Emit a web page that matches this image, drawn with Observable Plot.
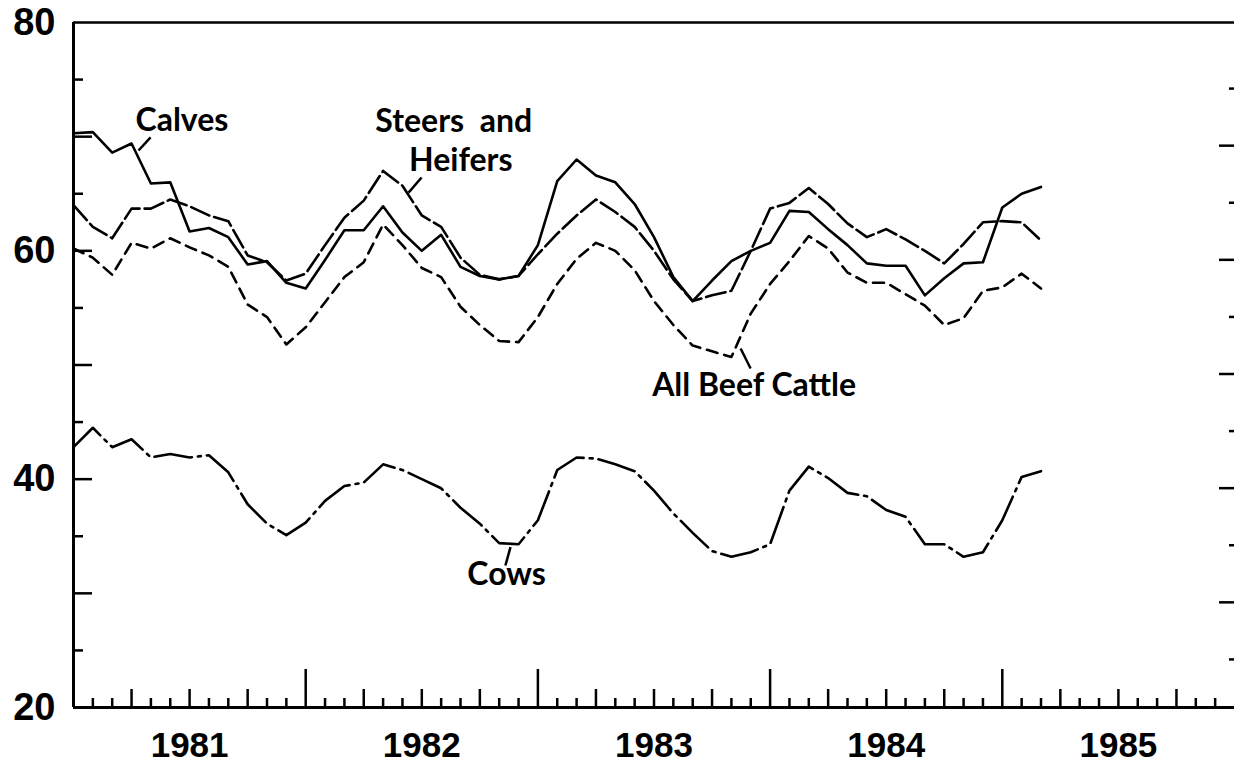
<!DOCTYPE html>
<html><head><meta charset="utf-8">
<script src="https://cdn.jsdelivr.net/npm/d3@7"></script>
<script src="https://cdn.jsdelivr.net/npm/@observablehq/plot@0.6"></script>
<style>html,body{margin:0;padding:0;background:#fff;} #chart svg{display:block;}</style>
</head><body><div id="chart"></div>
<script>
// Monthly values, January 1981 through March 1985
const startYear = 1981;
const calves = [70.3,70.4,68.6,69.4,65.9,66.0,61.7,62.0,61.2,58.8,59.1,57.2,56.7,59.2,61.8,61.8,63.9,61.6,60.0,61.4,58.6,57.8,57.5,57.8,60.5,66.1,68.0,66.6,66.0,64.1,61.2,57.7,55.6,57.4,59.1,60.0,60.7,63.5,63.4,61.9,60.5,58.9,58.7,58.7,56.1,57.6,58.9,59.0,63.8,65.0,65.6];
const steersHeifers = [64.0,62.1,61.1,63.7,63.7,64.5,63.9,63.1,62.6,59.6,59.0,57.4,58.0,60.5,62.9,64.4,67.0,65.7,63.1,62.1,59.4,57.9,57.5,57.8,59.7,61.5,63.1,64.5,63.4,62.1,60.0,57.5,55.6,56.1,56.5,60.0,63.7,64.2,65.5,64.1,62.4,61.2,61.9,61.0,60.0,58.9,60.6,62.5,62.6,62.5,60.9];
const allBeefCattle = [60.2,59.4,57.9,60.7,60.2,61.1,60.3,59.6,58.6,55.3,54.2,51.8,53.3,55.5,57.7,59.0,62.3,60.5,58.5,57.7,55.1,53.5,52.1,52.0,54.2,57.1,59.3,60.7,60.0,58.3,55.6,53.5,51.7,51.2,50.7,54.5,57.1,59.1,61.3,60.2,58.1,57.2,57.2,56.2,55.2,53.5,54.1,56.5,56.8,58.0,56.7];
const cows = [42.8,44.5,42.8,43.5,41.9,42.2,41.9,42.1,40.6,37.8,36.1,35.1,36.2,38.1,39.4,39.7,41.3,40.8,40.0,39.2,37.5,36.1,34.4,34.3,36.4,40.8,41.9,41.8,41.3,40.7,39.0,37.0,35.3,33.7,33.2,33.6,34.3,39.0,41.1,40.1,38.8,38.5,37.3,36.7,34.3,34.3,33.2,33.6,36.4,40.2,40.7];

const yearLabels = ["1981","1982","1983","1984","1985"];
const yLabels = [20, 40, 60, 80];

const annotations = [
  {text: "Calves", x: 1981.267, y: 71.4},
  {text: "Steers  and", x: 1982.300, y: 71.3},
  {text: "Heifers", x: 1982.445, y: 67.9},
  {text: "All Beef Cattle", x: 1983.492, y: 48.2},
  {text: "Cows", x: 1982.696, y: 31.6}
];
const leaders = [
  {x1: 1981.332, y1: 69.93, x2: 1981.280, y2: 68.79},
  {x1: 1982.499, y1: 66.42, x2: 1982.443, y2: 65.10},
  {x1: 1983.873, y1: 51.44, x2: 1983.916, y2: 49.69},
  {x1: 1982.882, y1: 34.04, x2: 1982.860, y2: 32.44}
];

const series = [
  {name: "Calves", values: calves, dash: null},
  {name: "Steers and Heifers", values: steersHeifers, dash: "20,5"},
  {name: "All Beef Cattle", values: allBeefCattle, dash: "11,7"},
  {name: "Cows", values: cows, dash: "38,6,3,6"}
];
const toRows = s => s.values.map((v, i) => ({t: startYear + i / 12, v}));

const monthIdx = d3.range(1, 60);
const monthTicks = monthIdx.filter(i => i % 3 !== 0).map(i => startYear + i / 12);
const quarterTicks = monthIdx.filter(i => i % 3 === 0 && i % 12 !== 0).map(i => startYear + i / 12);
const yearTicks = [1982, 1983, 1984, 1985];
const tickTens = [30, 40, 50, 60, 70];
const tickFives = [25, 35, 45, 55, 65, 75];

const axisFont = "'Liberation Sans', Arial, sans-serif";
const noText = () => "";

const chart = Plot.plot({
  width: 1234, height: 765,
  marginTop: 22, marginBottom: 58, marginLeft: 73, marginRight: 0,
  style: {fontFamily: axisFont, background: "#fff", color: "#000"},
  x: {domain: [1981, 1986], label: null},
  y: {domain: [20, 80], label: null},
  marks: [
    // frame
    Plot.ruleY([80], {strokeWidth: 2.5}),
    Plot.ruleX([1981], {strokeWidth: 3}),
    Plot.ruleY([20], {strokeWidth: 3}),
    // bottom ticks
    Plot.axisX({ticks: monthTicks, tickSize: 9, dy: -9, tickFormat: noText, label: null, strokeWidth: 2.5}),
    Plot.axisX({ticks: quarterTicks, tickSize: 18, dy: -18, tickFormat: noText, label: null, strokeWidth: 2.5}),
    Plot.axisX({ticks: yearTicks, tickSize: 38, dy: -38, tickFormat: noText, label: null, strokeWidth: 2.5}),
    // left ticks
    Plot.axisY({ticks: tickTens, tickSize: 19, dx: 19, tickFormat: noText, label: null, strokeWidth: 2.5}),
    Plot.axisY({ticks: tickFives, tickSize: 10, dx: 10, tickFormat: noText, label: null, strokeWidth: 2.5}),
    // right ticks
    Plot.axisY({anchor: "right", ticks: tickTens, tickSize: 16, dx: -16, dy: 9, tickFormat: noText, label: null, strokeWidth: 2.5}),
    Plot.axisY({anchor: "right", ticks: tickFives, tickSize: 6, dx: -6, dy: 9, tickFormat: noText, label: null, strokeWidth: 2.5}),
    // axis labels
    Plot.text(yLabels, {x: 1981, y: d => d, dx: -18, text: d => String(d), textAnchor: "end", fontSize: 38, fontWeight: "bold", fontFamily: axisFont}),
    Plot.text(yearLabels, {x: d => +d + 0.5, y: 20, dy: 38, text: d => d, fontSize: 35, fontWeight: "bold", fontFamily: axisFont}),
    // data lines
    ...series.map(s => Plot.line(toRows(s), {x: "t", y: "v", stroke: "#000", strokeWidth: 2.6, strokeDasharray: s.dash, strokeLinejoin: "round"})),
    // annotations
    Plot.link(leaders, {x1: "x1", y1: "y1", x2: "x2", y2: "y2", stroke: "#000", strokeWidth: 2.5}),
    Plot.text(annotations, {x: "x", y: "y", text: "text", textAnchor: "start", fontSize: 32, fontWeight: "bold", fontFamily: "Lato, sans-serif"})
  ]
});
document.getElementById("chart").appendChild(chart);
</script>
</body></html>
